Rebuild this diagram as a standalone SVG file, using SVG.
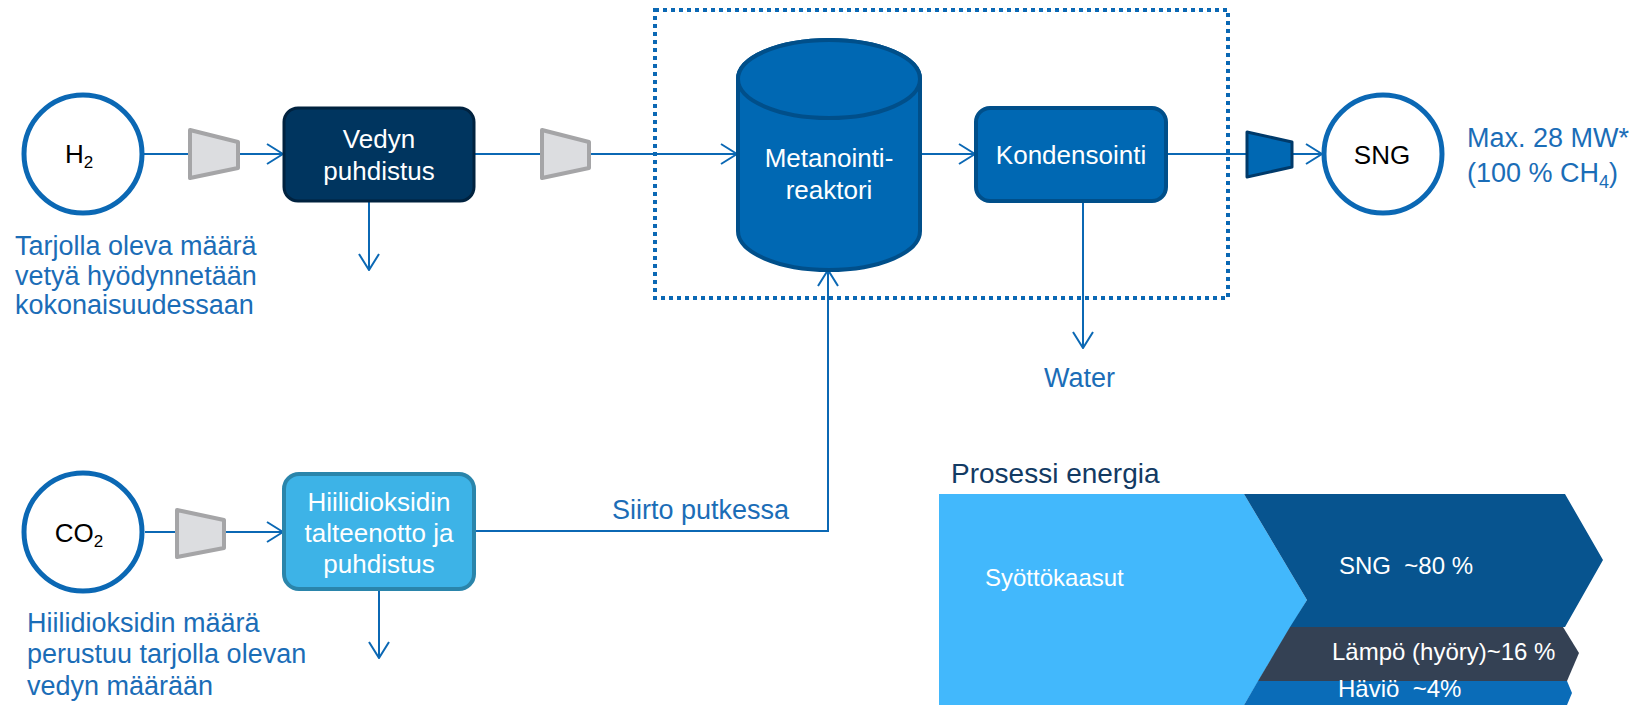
<svg xmlns="http://www.w3.org/2000/svg" width="1650" height="705" viewBox="0 0 1650 705">
<defs>
<marker id="arr" viewBox="0 0 18 22" refX="17" refY="11" markerWidth="18" markerHeight="22" markerUnits="userSpaceOnUse" orient="auto">
<path d="M1,1 L17,11 L1,21" fill="none" stroke="#0b68b4" stroke-width="2"/>
</marker>
<style>
text{font-family:"Liberation Sans",Arial,sans-serif}
.ln{fill:none;stroke:#0b68b4;stroke-width:2}
.circ{fill:#fff;stroke:#0b68b4;stroke-width:5}
.comp{fill:#dcdde0;stroke:#a5a5a7;stroke-width:4;stroke-linejoin:round}
.wt{fill:#fff;font-size:26px;text-anchor:middle}
.bk{fill:#000;font-size:26px;text-anchor:middle}
.note{fill:#1b6db7;font-size:27px}
.ch{fill:#fff;font-size:24px}
</style>
</defs>
<rect width="1650" height="705" fill="#fff"/>

<g id="connectors">
<path class="ln" d="M144,154 H190"/>
<path class="ln" d="M238,154 H283" marker-end="url(#arr)"/>
<path class="ln" d="M475,154 H542"/>
<path class="ln" d="M589,154 H737" marker-end="url(#arr)"/>
<path class="ln" d="M921,154 H975" marker-end="url(#arr)"/>
<path class="ln" d="M1167,154 H1247"/>
<path class="ln" d="M1292,154 H1322" marker-end="url(#arr)"/>
<path class="ln" d="M369,202 V270" marker-end="url(#arr)"/>
<path class="ln" d="M1083,202 V348" marker-end="url(#arr)"/>
<path class="ln" d="M145,532 H177"/>
<path class="ln" d="M224,532 H283" marker-end="url(#arr)"/>
<path class="ln" d="M475,531 H828 V270" marker-end="url(#arr)"/>
<path class="ln" d="M379,590 V658" marker-end="url(#arr)"/>
</g>

<g id="boundary">
<rect x="655" y="10" width="573" height="288" fill="none" stroke="#0b68b4" stroke-width="4" stroke-dasharray="4 4"/>
</g>

<g id="h2">
<circle cx="83" cy="154" r="59" class="circ"/>
<text x="79" y="163" class="bk">H<tspan font-size="17" dy="5">2</tspan></text>
</g>
<g id="comp1"><polygon class="comp" points="190,130 238,142 238,168 190,178"/></g>
<g id="vedyn">
<rect x="284" y="108" width="190" height="93" rx="14" fill="#00355f" stroke="#00223f" stroke-width="3"/>
<text x="379" y="148" class="wt">Vedyn</text>
<text x="379" y="180" class="wt">puhdistus</text>
</g>
<g id="comp2"><polygon class="comp" points="542,130 589,142 589,168 542,178"/></g>
<g id="reactor">
<path d="M738,79 V231 A91,39 0 0 0 920,231 V79 A91,39 0 0 0 738,79 Z" fill="#0068b3" stroke="#004f8a" stroke-width="4"/>
<ellipse cx="829" cy="79" rx="91" ry="39" fill="#0068b3" stroke="#004f8a" stroke-width="4"/>
<text x="829" y="167" class="wt">Metanointi-</text>
<text x="829" y="199" class="wt">reaktori</text>
</g>
<g id="kondensointi">
<rect x="976" y="108" width="190" height="93" rx="14" fill="#0068b3" stroke="#004f8a" stroke-width="4"/>
<text x="1071" y="164" class="wt">Kondensointi</text>
</g>
<g id="comp-sng"><polygon points="1247,132 1292,142 1292,167 1247,177" fill="#0068b3" stroke="#003a6a" stroke-width="3" stroke-linejoin="round"/></g>
<g id="sng">
<circle cx="1383" cy="154" r="59" class="circ"/>
<text x="1382" y="164" class="bk">SNG</text>
</g>
<g id="sng-note">
<text x="1467" y="147" class="note">Max. 28 MW*</text>
<text x="1467" y="182" class="note">(100 % CH<tspan font-size="18" dy="6">4</tspan><tspan dy="-6">)</tspan></text>
</g>
<g id="h2-note">
<text x="15" y="255" class="note">Tarjolla oleva määrä</text>
<text x="15" y="285" class="note">vetyä hyödynnetään</text>
<text x="15" y="314" class="note">kokonaisuudessaan</text>
</g>
<g id="water"><text x="1044" y="387" class="note" font-size="29">Water</text></g>

<g id="co2">
<circle cx="83" cy="532" r="59" class="circ"/>
<text x="79" y="542" class="bk">CO<tspan font-size="17" dy="5">2</tspan></text>
</g>
<g id="comp3"><polygon class="comp" points="177,510 224,520 224,548 177,557"/></g>
<g id="hiili">
<rect x="284" y="474" width="190" height="115" rx="15" fill="#3db3e7" stroke="#2a85ab" stroke-width="4"/>
<text x="379" y="511" class="wt">Hiilidioksidin</text>
<text x="379" y="542" class="wt">talteenotto ja</text>
<text x="379" y="573" class="wt">puhdistus</text>
</g>
<g id="siirto"><text x="612" y="519" class="note" font-size="29">Siirto putkessa</text></g>
<g id="co2-note">
<text x="27" y="632" class="note">Hiilidioksidin määrä</text>
<text x="27" y="663" class="note">perustuu tarjolla olevan</text>
<text x="27" y="695" class="note">vedyn määrään</text>
</g>

<g id="energy">
<text x="951" y="483" fill="#123a63" font-size="28">Prosessi energia</text>
<polygon points="939,494 1244,494 1307,600 1244,705 939,705" fill="#42b8fc"/>
<polygon points="1244,494 1565,494 1603,560 1565,627 1290,627 1307,600" fill="#07548f"/>
<polygon points="1290,627 1563,627 1579,653 1567,681 1258,681" fill="#344154"/>
<polygon points="1258,681 1567,681 1572,693 1567,705 1244,705" fill="#0a6cb8"/>
<text x="985" y="586" class="ch">Syöttökaasut</text>
<text x="1339" y="574" class="ch" xml:space="preserve">SNG  ~80 %</text>
<text x="1332" y="660" class="ch">Lämpö (hyöry)~16 %</text>
<text x="1338" y="697" class="ch" xml:space="preserve">Häviö  ~4%</text>
</g>
</svg>
